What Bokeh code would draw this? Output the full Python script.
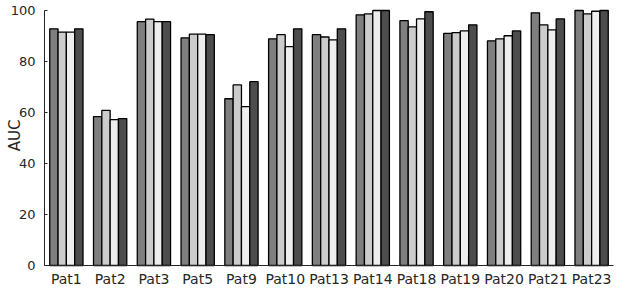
import math
from bokeh.plotting import figure
from bokeh.models import ColumnDataSource, FixedTicker, Range1d, Label
from bokeh.transform import dodge
from bokeh.embed import file_html
from bokeh.resources import INLINE

pats = ["Pat1", "Pat2", "Pat3", "Pat5", "Pat9", "Pat10", "Pat13", "Pat14",
        "Pat18", "Pat19", "Pat20", "Pat21", "Pat23"]
s1 = [92.8, 58.4, 95.6, 89.3, 65.4, 88.9, 90.5, 98.3, 96.0, 91.0, 88.1, 99.1, 100.0]
s2 = [91.5, 60.8, 96.6, 90.7, 70.8, 90.5, 89.6, 98.7, 93.6, 91.3, 88.9, 94.4, 98.7]
s3 = [91.5, 57.2, 95.6, 90.7, 62.3, 85.8, 88.5, 100.0, 96.7, 92.0, 90.1, 92.4, 99.7]
s4 = [92.8, 57.6, 95.6, 90.5, 72.1, 92.8, 92.8, 100.0, 99.5, 94.4, 92.0, 96.7, 100.0]
colors = ["#7f7f7f", "#cccccc", "#eeeeee", "#4d4d4d"]
yticks = [0, 20, 40, 60, 80, 100]

xi = list(range(len(pats)))
src = ColumnDataSource(dict(x=xi, s1=s1, s2=s2, s3=s3, s4=s4))

p = figure(width=625, height=288, x_range=Range1d(-1.505, 12.774),
           y_range=Range1d(-9.02, 103.92), output_backend="svg", toolbar_location=None,
           min_border_left=0, min_border_right=0, min_border_top=0, min_border_bottom=0)

w = 0.19
offs = [-1.5 * w, -0.5 * w, 0.5 * w, 1.5 * w]
for key, off, c in zip(["s1", "s2", "s3", "s4"], offs, colors):
    p.vbar(x=dodge("x", off), top=key, bottom=0, width=w, source=src,
           fill_color=c, line_color="black", line_width=1.3)

p.outline_line_color = None
p.xgrid.grid_line_color = None
p.ygrid.grid_line_color = None
p.background_fill_color = "white"
p.border_fill_color = "white"

p.yaxis.fixed_location = -0.5
p.yaxis.bounds = (0, 100)
p.yaxis.ticker = FixedTicker(ticks=yticks)
p.yaxis.major_tick_in = 3
p.yaxis.major_tick_out = 0
p.yaxis.minor_tick_line_color = None
p.yaxis.major_label_standoff = 9
p.yaxis.major_label_text_font_size = "13px"

p.xaxis.fixed_location = 0
p.xaxis.ticker = FixedTicker(ticks=xi)
p.xaxis.major_label_overrides = {i: name for i, name in zip(xi, pats)}
p.xaxis.bounds = (-0.5, 12.5)
p.xaxis.minor_tick_line_color = None
p.xaxis.major_tick_out = 0
p.xaxis.major_tick_in = 0
p.xaxis.major_label_standoff = 6
p.xaxis.major_label_text_font_size = "14px"

for ax in (p.xaxis, p.yaxis):
    ax.major_label_text_font = "DejaVu Sans"
    ax.major_label_text_color = "#262626"
    ax.axis_line_color = "#262626"
    ax.axis_line_width = 1
p.yaxis.major_tick_line_color = "#262626"
p.xaxis.major_tick_line_color = None

ylab = Label(x=-1.174, y=51, text="AUC", angle=math.pi / 2,
             text_align="center", text_baseline="middle",
             text_font="DejaVu Sans", text_font_size="15px", text_color="#262626")
p.add_layout(ylab)

open("out.html", "w").write(file_html(p, INLINE))
